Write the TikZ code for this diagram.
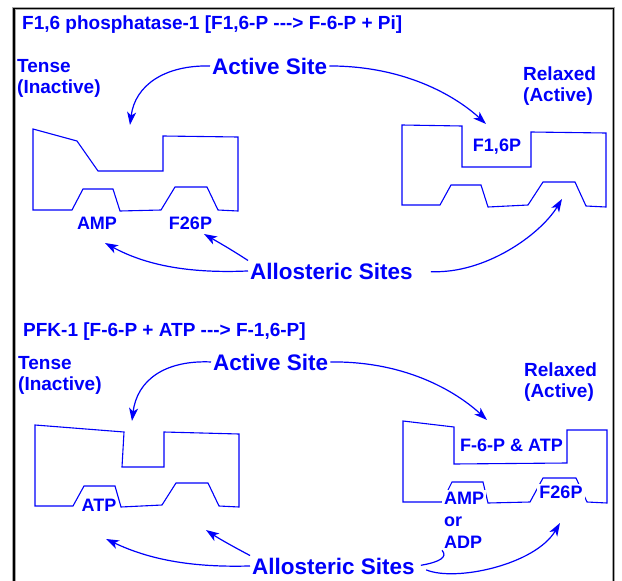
\documentclass[tikz,border=0pt]{standalone}
\usepackage{fontspec}
\setmainfont{Liberation Sans}
\usepackage{xcolor}
\usetikzlibrary{arrows.meta}
\tikzset{>={Stealth[length=13pt,width=9pt,inset=3.5pt]}}
\definecolor{myblue}{HTML}{0000FA}

\begin{document}
\begin{tikzpicture}[x=1pt,y=-1pt,
		lbl/.style={text=myblue,inner sep=0pt,font=\bfseries\fontsize{19}{21}\selectfont},
		big/.style={lbl,inner sep=2pt,font=\bfseries\fontsize{22.5}{26}\selectfont},
		site/.style={lbl,font=\bfseries\fontsize{18}{22}\selectfont},
		enzyme/.style={draw=myblue,line width=1.1pt},
		link/.style={draw=myblue,line width=1.2pt}]
			\useasboundingbox (0,0) rectangle (622,581);
			\draw [gray!70,line width=3.5pt] (14,581) -- (14,8.5) -- (613.5,8.5) -- (613.5,581);
			\draw [black,line width=1.8pt] (14,581) -- (14,8.5) -- (613.5,8.5) -- (613.5,581);

			\node[lbl,anchor=base west] (title1) at (22,29) {F1,6 phosphatase-1 [F1,6-P -{}-{}-> F-6-P + Pi]};
			\node[lbl,align=left,anchor=north west] (tense1) at (17,59) {Tense\\(Inactive)};
			\node[lbl,align=left,anchor=north west] (relax1) at (523,67) {Relaxed\\(Active)};
			\node[big,anchor=base west] (act1) at (210,74) {Active Site};
			\node[big,anchor=base west] (allo1) at (248,279) {Allosteric Sites};
			\draw [enzyme] (33,129) -- (77,141) -- (98,171) -- (163,171) -- (163,136) -- (238,137) -- (238,211) -- (218,210) -- (207,187) -- (175,187) -- (161,210) -- (120,211) -- (113,189) -- (83,189) -- (72,210) -- (33,210) -- cycle;
			\draw [enzyme] (402,125) -- (462,126) -- (462,167) -- (531,167) -- (531,132) -- (606,133) -- (606,207) -- (586,206) -- (575,182) -- (543,182) -- (528,205) -- (488,207) -- (481,185) -- (451,185) -- (440,205) -- (402,205) -- cycle;
			\node[site] (amp1) at (97,223) {AMP};
			\node[site] (f26p1) at (190.5,223) {F26P};
			\node[site] (f16p) at (497,146.5) {F1,6P};
			\coordinate (tip1) at (130,125);
			\coordinate (tip2) at (486,124);
			\coordinate (tip3) at (562,199);
			\coordinate (tipa) at (105,243);
			\coordinate (tipb) at (204,234);
			\draw [link,->] (act1.west) .. controls (165,65) and (135,85) .. (tip1);
			\draw [link,->] (act1.east) .. controls (410,66) and (460,100) .. (tip2);
			\draw [link,->] (allo1.west) .. controls (180,274) and (140,262) .. (tipa);
			\draw [link,->] (allo1.north west) .. controls (232,250) and (218,242) .. (tipb);
			\draw [link,->,shorten <=16pt] (allo1.east) .. controls (485,274) and (540,235) .. (tip3);

			\node[lbl,anchor=base west] (title2) at (23,336) {PFK-1 [F-6-P + ATP -{}-{}-> F-1,6-P]};
			\node[lbl,align=left,anchor=north west] (tense2) at (18,356) {Tense\\(Inactive)};
			\node[lbl,align=left,anchor=north west] (relax2) at (524,363) {Relaxed\\(Active)};
			\node[big,anchor=base west] (act2) at (211,370) {Active Site};
			\node[big,anchor=base west] (allo2) at (250,574) {Allosteric Sites};
			\draw [enzyme] (35,425) -- (124,432) -- (122,467) -- (164,467) -- (164,432) -- (239,434) -- (239,507) -- (219,506) -- (208,483) -- (176,483) -- (162,505) -- (121,507) -- (115,486) -- (84,486) -- (73,506) -- (35,506) -- cycle;
			\draw [enzyme] (403,421) -- (454,427) -- (454,464) -- (567,463) -- (567,430) -- (607,430) -- (607,503) -- (587,502) -- (576,478) -- (543,478) -- (530,502) -- (488,503) -- (483,482) -- (452,482) -- (442,502) -- (403,502) -- cycle;
			\node[site] (atp) at (99,505) {ATP};
			\node[site] (f6patp) at (511.5,445.5) {F-6-P \& ATP};
			\node[site,align=left,anchor=north west,fill=white,inner sep=2pt] (amp2) at (442,489.5) {AMP\\or\\ADP};
			\node[site,fill=white,inner sep=2pt] (f26p2) at (561,492.5) {F26P};
			\coordinate (tip4) at (132,421);
			\coordinate (tip5) at (487,420);
			\coordinate (tip6) at (106,539);
			\coordinate (tip7) at (206,530);
			\coordinate (tip8) at (560,523);
			\draw [link,->] (act2.west) .. controls (165,360) and (137,380) .. (tip4);
			\draw [link,->] (act2.east) .. controls (410,361) and (460,395) .. (tip5);
			\draw [link,->] (allo2.west) .. controls (182,568) and (142,556) .. (tip6);
			\draw [link,->] (allo2.north west) .. controls (232,546) and (218,538) .. (tip7);
			\draw [link,shorten <=4pt] (allo2.east) .. controls (440,562) and (448,557) .. (amp2.south west);
			\draw [link,->,shorten <=10pt] (allo2.east) .. controls (455,582) and (535,565) .. (tip8);
		\end{tikzpicture}
\end{document}
